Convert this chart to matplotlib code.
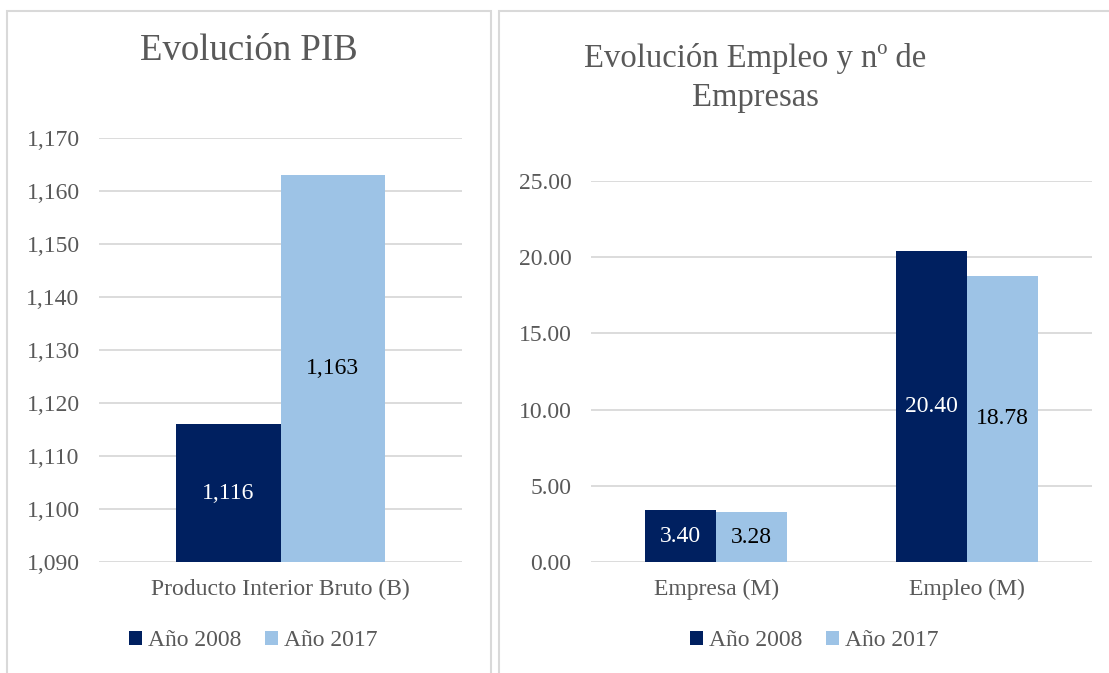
import matplotlib
matplotlib.use("Agg")
import matplotlib.pyplot as plt
from matplotlib.patches import Rectangle

plt.rcParams['font.family'] = ['Liberation Serif', 'DejaVu Serif']

# datos
series = ['Año 2008', 'Año 2017']
colores = ['#002060', '#9DC3E6']
colores_txt = ['white', 'black']

pib_cat = ['Producto Interior Bruto (B)']
pib_2008 = [1116]
pib_2017 = [1163]

emp_cat = ['Empresa (M)', 'Empleo (M)']
emp_2008 = [3.40, 20.40]
emp_2017 = [3.28, 18.78]

W, H = 1109, 673
fig = plt.figure(figsize=(W / 100, H / 100), dpi=100)
gris = '#595959'
grid = '#D9D9D9'


def px(x0, y0, x1, y1):
    return [x0 / W, (H - y1) / H, (x1 - x0) / W, (y1 - y0) / H]


# marcos de los paneles
fig.patches.append(Rectangle((7 / W, -0.05), (491 - 7) / W, (H - 11) / H + 0.05,
                             transform=fig.transFigure, fill=False, ec=grid, lw=1.5))
fig.patches.append(Rectangle((499 / W, -0.05), 0.6, (H - 11) / H + 0.05,
                             transform=fig.transFigure, fill=False, ec=grid, lw=1.5))


def panel(ax, cats, v1, v2, ylim, step, fmt, bw):
    x = list(range(len(cats)))
    base = ylim[0]
    b1 = ax.bar([i - bw / 2 for i in x], [v - base for v in v1], bw, bottom=base,
                color=colores[0], label=series[0])
    b2 = ax.bar([i + bw / 2 for i in x], [v - base for v in v2], bw, bottom=base,
                color=colores[1], label=series[1])
    ax.set_xlim(-0.5, len(cats) - 0.5)
    ax.set_ylim(*ylim)
    ticks = []
    t = ylim[0]
    while t <= ylim[1] + 1e-9:
        ticks.append(t)
        t += step
    ax.set_yticks(ticks)
    ax.set_yticklabels([fmt(t) for t in ticks])
    ax.set_xticks(x)
    ax.set_xticklabels(cats)
    ax.grid(axis='y', color=grid, lw=1.3)
    ax.set_axisbelow(True)
    for s in ax.spines.values():
        s.set_visible(False)
    ax.tick_params(length=0, labelsize=17, labelcolor=gris)
    ax.tick_params(axis='y', pad=14)
    ax.tick_params(axis='x', pad=12)
    for bars, vals, c in ((b1, v1, colores_txt[0]), (b2, v2, colores_txt[1])):
        for r, v in zip(bars, vals):
            ax.text(r.get_x() + r.get_width() / 2, (base + v) / 2, fmt(v),
                    ha='center', va='center', color=c, fontsize=17)


ax1 = fig.add_axes(px(99, 138, 462, 562))
panel(ax1, pib_cat, pib_2008, pib_2017, (1090, 1170), 10,
      lambda v: f'{v:,.0f}', 0.287)

ax2 = fig.add_axes(px(591, 181, 1092, 562))
panel(ax2, emp_cat, emp_2008, emp_2017, (0, 25), 5,
      lambda v: f'{v:.2f}', 0.283)

fig.text(249 / W, 1 - 51 / H, 'Evolución PIB', ha='center', va='center',
         fontsize=26.5, color=gris)
fig.text(755 / W, 1 - 78 / H, 'Evolución Empleo y nº de\nEmpresas', ha='center',
         va='center', fontsize=23.5, color=gris, linespacing=1.33)

for ax, cx in ((ax1, 253), (ax2, 814)):
    ax.legend(loc='center', bbox_to_anchor=(cx / W, 1 - 641 / H),
              bbox_transform=fig.transFigure, ncol=2, frameon=False,
              fontsize=17, labelcolor=gris, handlelength=0.55, handleheight=0.55,
              handletextpad=0.25, columnspacing=1.0)

fig.savefig('out.png', dpi=100)
